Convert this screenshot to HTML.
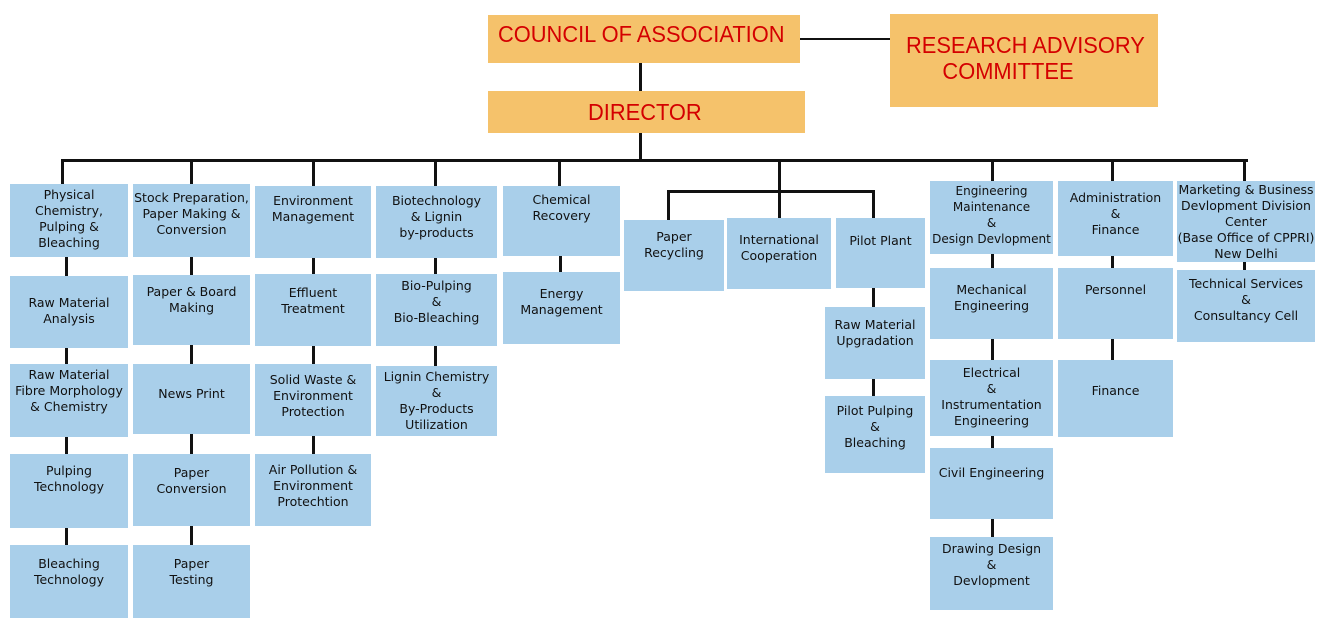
<!DOCTYPE html>
<html><head><meta charset="utf-8"><style>
body{margin:0;width:1320px;height:634px;background:#fff;position:relative;overflow:hidden;font-family:"DejaVu Sans","Liberation Sans",sans-serif}
.b{position:absolute;background:#a9cfea;font-size:12.5px;color:#111;text-align:center;line-height:16px;box-sizing:border-box;padding-top:8px;white-space:nowrap}
.o{position:absolute;background:#f5c26b;color:#d40000;font-family:"Liberation Sans",sans-serif;font-size:23px;line-height:28px;box-sizing:border-box;white-space:nowrap}
.o span{display:inline-block;transform:scaleX(.95);transform-origin:left}
.l{position:absolute;background:#111}
</style></head><body>
<div class="o" style="left:488px;top:15px;width:312px;height:48px;padding:5px 0 0 10px"><span>COUNCIL OF ASSOCIATION</span></div>
<div class="o" style="left:488px;top:91px;width:317px;height:42px;padding:7px 0 0 100px"><span>DIRECTOR</span></div>
<div class="o" style="left:890px;top:14px;width:268px;height:93px;padding:18px 0 0 16px;line-height:26px"><span>RESEARCH ADVISORY<br>&nbsp;&nbsp;&nbsp;&nbsp;&nbsp;&nbsp;COMMITTEE</span></div>
<div class="l" style="left:800px;top:38px;width:90px;height:2px"></div>
<div class="l" style="left:639px;top:63px;width:3px;height:28px"></div>
<div class="l" style="left:639px;top:133px;width:3px;height:28px"></div>
<div class="l" style="left:61px;top:159px;width:1187px;height:3px"></div>
<div class="l" style="left:61px;top:159px;width:3px;height:25px"></div>
<div class="l" style="left:190px;top:159px;width:3px;height:25px"></div>
<div class="l" style="left:312px;top:159px;width:3px;height:27px"></div>
<div class="l" style="left:434px;top:159px;width:3px;height:27px"></div>
<div class="l" style="left:558px;top:159px;width:3px;height:27px"></div>
<div class="l" style="left:778px;top:159px;width:3px;height:59px"></div>
<div class="l" style="left:667px;top:190px;width:208px;height:3px"></div>
<div class="l" style="left:667px;top:190px;width:3px;height:30px"></div>
<div class="l" style="left:872px;top:190px;width:3px;height:28px"></div>
<div class="l" style="left:991px;top:159px;width:3px;height:22px"></div>
<div class="l" style="left:1111px;top:159px;width:3px;height:22px"></div>
<div class="l" style="left:1243px;top:159px;width:3px;height:22px"></div>
<div class="l" style="left:65px;top:257px;width:3px;height:290px"></div>
<div class="l" style="left:190px;top:257px;width:3px;height:290px"></div>
<div class="l" style="left:312px;top:258px;width:3px;height:196px"></div>
<div class="l" style="left:434px;top:258px;width:3px;height:108px"></div>
<div class="l" style="left:559px;top:256px;width:3px;height:16px"></div>
<div class="l" style="left:872px;top:288px;width:3px;height:108px"></div>
<div class="l" style="left:991px;top:254px;width:3px;height:283px"></div>
<div class="l" style="left:1111px;top:256px;width:3px;height:104px"></div>
<div class="l" style="left:1243px;top:262px;width:3px;height:8px"></div>
<div class="b" style="left:10px;top:184px;width:118px;height:73px;padding-top:3px">Physical<br>Chemistry,<br>Pulping &amp;<br>Bleaching</div>
<div class="b" style="left:10px;top:276px;width:118px;height:72px;padding-top:19px">Raw Material<br>Analysis</div>
<div class="b" style="left:10px;top:364px;width:118px;height:73px;padding-top:3px">Raw Material<br>Fibre Morphology<br>&amp; Chemistry</div>
<div class="b" style="left:10px;top:454px;width:118px;height:74px;padding-top:9px">Pulping<br>Technology</div>
<div class="b" style="left:10px;top:545px;width:118px;height:73px;padding-top:11px">Bleaching<br>Technology</div>
<div class="b" style="left:133px;top:184px;width:117px;height:73px;padding-top:6px">Stock Preparation,<br>Paper Making &amp;<br>Conversion</div>
<div class="b" style="left:133px;top:275px;width:117px;height:70px;padding-top:9px">Paper &amp; Board<br>Making</div>
<div class="b" style="left:133px;top:364px;width:117px;height:70px;padding-top:22px">News Print</div>
<div class="b" style="left:133px;top:454px;width:117px;height:72px;padding-top:11px">Paper<br>Conversion</div>
<div class="b" style="left:133px;top:545px;width:117px;height:73px;padding-top:11px">Paper<br>Testing</div>
<div class="b" style="left:255px;top:186px;width:116px;height:72px;padding-top:7px">Environment<br>Management</div>
<div class="b" style="left:255px;top:274px;width:116px;height:72px;padding-top:11px">Effluent<br>Treatment</div>
<div class="b" style="left:255px;top:364px;width:116px;height:72px;padding-top:8px">Solid Waste &amp;<br>Environment<br>Protection</div>
<div class="b" style="left:255px;top:454px;width:116px;height:72px;padding-top:8px">Air Pollution &amp;<br>Environment<br>Protechtion</div>
<div class="b" style="left:376px;top:186px;width:121px;height:72px;padding-top:7px">Biotechnology<br>&amp; Lignin<br>by-products</div>
<div class="b" style="left:376px;top:274px;width:121px;height:72px;padding-top:4px">Bio-Pulping<br>&amp;<br>Bio-Bleaching</div>
<div class="b" style="left:376px;top:366px;width:121px;height:70px;padding-top:3px">Lignin Chemistry<br>&amp;<br>By-Products<br>Utilization</div>
<div class="b" style="left:503px;top:186px;width:117px;height:70px;padding-top:6px">Chemical<br>Recovery</div>
<div class="b" style="left:503px;top:272px;width:117px;height:72px;padding-top:14px">Energy<br>Management</div>
<div class="b" style="left:624px;top:220px;width:100px;height:71px;padding-top:9px">Paper<br>Recycling</div>
<div class="b" style="left:727px;top:218px;width:104px;height:71px;padding-top:14px">International<br>Cooperation</div>
<div class="b" style="left:836px;top:218px;width:89px;height:70px;padding-top:15px">Pilot Plant</div>
<div class="b" style="left:825px;top:307px;width:100px;height:72px;padding-top:10px">Raw Material<br>Upgradation</div>
<div class="b" style="left:825px;top:396px;width:100px;height:77px;padding-top:7px">Pilot Pulping<br>&amp;<br>Bleaching</div>
<div class="b" style="left:930px;top:181px;width:123px;height:73px;padding-top:2px;font-size:12px">Engineering<br>Maintenance<br>&amp;<br>Design Devlopment</div>
<div class="b" style="left:930px;top:268px;width:123px;height:71px;padding-top:14px">Mechanical<br>Engineering</div>
<div class="b" style="left:930px;top:360px;width:123px;height:76px;padding-top:5px">Electrical<br>&amp;<br>Instrumentation<br>Engineering</div>
<div class="b" style="left:930px;top:448px;width:123px;height:71px;padding-top:17px">Civil Engineering</div>
<div class="b" style="left:930px;top:537px;width:123px;height:73px;padding-top:4px">Drawing Design<br>&amp;<br>Devlopment</div>
<div class="b" style="left:1058px;top:181px;width:115px;height:75px;padding-top:9px">Administration<br>&amp;<br>Finance</div>
<div class="b" style="left:1058px;top:268px;width:115px;height:71px;padding-top:14px">Personnel</div>
<div class="b" style="left:1058px;top:360px;width:115px;height:77px;padding-top:23px">Finance</div>
<div class="b" style="left:1177px;top:181px;width:138px;height:81px;padding-top:1px">Marketing &amp; Business<br>Devlopment Division<br>Center<br>(Base Office of CPPRI)<br>New Delhi</div>
<div class="b" style="left:1177px;top:270px;width:138px;height:72px;padding-top:6px">Technical Services<br>&amp;<br>Consultancy Cell</div>
</body></html>
